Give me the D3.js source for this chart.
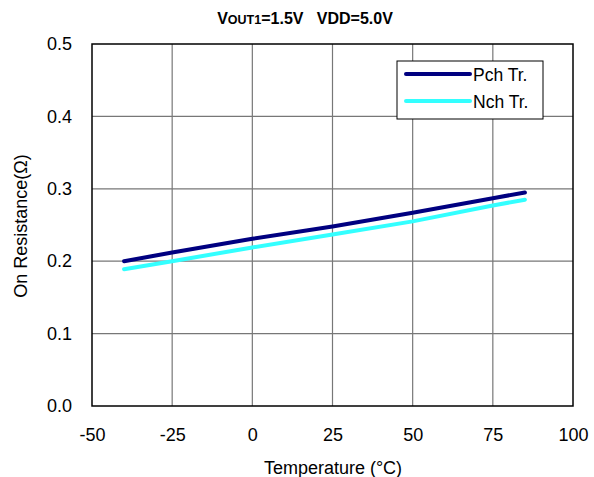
<!DOCTYPE html>
<html><head><meta charset="utf-8">
<script src="https://cdn.jsdelivr.net/npm/d3@7"></script>
<style>body{margin:0;background:#fff}svg{display:block}text{font-family:"Liberation Sans",Arial,sans-serif}</style>
</head><body><svg id="c" width="594" height="477"></svg>
<script>
const temps = [-40, -25, 0, 25, 50, 75, 85];
const pch = [0.200, 0.212, 0.231, 0.248, 0.267, 0.287, 0.295];
const nch = [0.189, 0.200, 0.219, 0.237, 0.255, 0.277, 0.285];
const xTicks = [-50, -25, 0, 25, 50, 75, 100];
const yTicks = [0.0, 0.1, 0.2, 0.3, 0.4, 0.5];
const seriesNames = ["Pch Tr.", "Nch Tr."];
const colors = ["#000080", "#33FFFF"];

const svg = d3.select("#c");
const L = 92, R = 573, T = 44, B = 406;
const x = d3.scaleLinear().domain([-50, 100]).range([L, R]);
const y = d3.scaleLinear().domain([0, 0.5]).range([B, T]);
const FF = '"Liberation Sans",Arial,sans-serif';

// grid
svg.append("g").selectAll("line").data(xTicks.slice(1, -1)).join("line")
  .attr("x1", d => x(d)).attr("x2", d => x(d)).attr("y1", T).attr("y2", B)
  .attr("stroke", "#777").attr("stroke-width", 1.2);
svg.append("g").selectAll("line").data(yTicks.slice(1, -1)).join("line")
  .attr("y1", d => y(d)).attr("y2", d => y(d)).attr("x1", L).attr("x2", R)
  .attr("stroke", "#777").attr("stroke-width", 1.2);
svg.append("rect").attr("x", L).attr("y", T).attr("width", R - L).attr("height", B - T)
  .attr("fill", "none").attr("stroke", "#000").attr("stroke-width", 1.5);

// axes labels
const xAxis = d3.axisBottom(x).tickValues(xTicks).tickSize(0).tickPadding(22).tickFormat(d => String(d));
const gx = svg.append("g").attr("transform", `translate(0,${B})`).call(xAxis);
gx.select(".domain").remove();
gx.selectAll("text").attr("font-size", 18).attr("fill", "#000").style("font-family", FF);
const yAxis = d3.axisLeft(y).tickValues(yTicks).tickSize(0).tickPadding(20).tickFormat(d3.format(".1f"));
const gy = svg.append("g").attr("transform", `translate(${L},0)`).call(yAxis);
gy.select(".domain").remove();
gy.selectAll("text").attr("font-size", 18).attr("fill", "#000").style("font-family", FF);

// lines
const line = d3.line().x((d, i) => x(temps[i])).y(d => y(d));
[pch, nch].forEach((s, k) => {
  svg.append("path").datum(s).attr("d", line).attr("fill", "none")
    .attr("stroke", colors[k]).attr("stroke-width", 4).attr("stroke-linecap", "round");
});

// title
const t = svg.append("text").attr("x", 305).attr("y", 24).attr("text-anchor", "middle")
  .attr("font-weight", "bold").attr("font-size", 16);
t.append("tspan").text("V");
t.append("tspan").attr("font-size", 12.5).text("OUT1");
t.append("tspan").text("=1.5V\u00a0\u00a0\u00a0VDD=5.0V");

// axis titles
svg.append("text").attr("x", 333).attr("y", 474).attr("text-anchor", "middle")
  .attr("font-size", 18).text("Temperature (°C)");
svg.append("text").attr("transform", "translate(27,226) rotate(-90)").attr("text-anchor", "middle")
  .attr("font-size", 18).text("On Resistance(Ω)");

// legend
const lg = svg.append("g");
lg.append("rect").attr("x", 397).attr("y", 61).attr("width", 146).attr("height", 58)
  .attr("fill", "#fff").attr("stroke", "#000").attr("stroke-width", 1);
seriesNames.forEach((n, k) => {
  const yy = 74 + k * 27;
  lg.append("line").attr("x1", 406).attr("x2", 470).attr("y1", yy).attr("y2", yy)
    .attr("stroke", colors[k]).attr("stroke-width", 4).attr("stroke-linecap", "round");
  lg.append("text").attr("x", 473).attr("y", yy + 6.5).attr("font-size", 17.5).text(n);
});
</script></body></html>
